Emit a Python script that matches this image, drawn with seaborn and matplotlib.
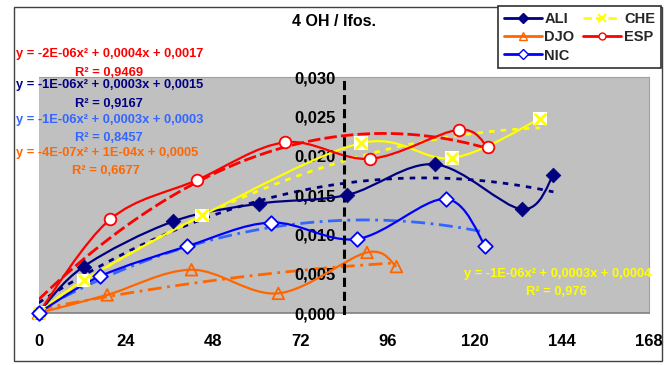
import numpy as np
import pandas as pd
import matplotlib
matplotlib.use("Agg")
import matplotlib.pyplot as plt
import seaborn as sns
from matplotlib.path import Path
from matplotlib.patches import PathPatch, Rectangle
from matplotlib.lines import Line2D
from matplotlib.ticker import FuncFormatter

# ---------------- data ----------------
ali_x = [0, 12.4, 37.1, 60.7, 84.9, 109, 133, 141.7]
ali_y = [0, 0.0059, 0.01165, 0.0139, 0.0150, 0.0189, 0.0132, 0.0175]
che_x = [0, 12.4, 45, 88.8, 113.8, 138]
che_y = [0, 0.00415, 0.0124, 0.0216, 0.0197, 0.0247]
esp_x = [0, 19.7, 43.6, 67.8, 91.2, 115.6, 123.6]
esp_y = [0, 0.0119, 0.0169, 0.0217, 0.0196, 0.0233, 0.0211]
nic_x = [0, 16.9, 41, 64, 87.6, 112, 123]
nic_y = [0, 0.00466, 0.0085, 0.0115, 0.0094, 0.0145, 0.0085]
djo_x = [0, 18.9, 42.1, 66, 90.4, 98.5]
djo_y = [0, 0.0023, 0.0055, 0.0025, 0.0077, 0.0059]

x_ticks = [0, 24, 48, 72, 96, 120, 144, 168]
y_ticks = [0.000, 0.005, 0.010, 0.015, 0.020, 0.025, 0.030]

title = "4 OH / Ifos."
eq_esp = ("y = -2E-06x² + 0,0004x + 0,0017", "R² = 0,9469")
eq_ali = ("y = -1E-06x² + 0,0003x + 0,0015", "R² = 0,9167")
eq_nic = ("y = -1E-06x² + 0,0003x + 0,0003", "R² = 0,8457")
eq_djo = ("y = -4E-07x² + 1E-04x + 0,0005", "R² = 0,6677")
eq_che = ("y = -1E-06x² + 0,0003x + 0,0004", "R² = 0,976")

# ---------------- style ----------------
sns.set_style("white")
FONT = ["Liberation Sans Narrow", "Liberation Sans", "DejaVu Sans"]
plt.rcParams["font.family"] = FONT
plt.rcParams["font.weight"] = "bold"

NAVY = "#000080"
YELLOW = "#FFFF00"
ORANGE = "#FF6600"
RED = "#FF0000"
BLUE = "#0000FF"
LBLUE = "#3366FF"
GRAY = "#C0C0C0"

W, H = 670, 365
fig = plt.figure(figsize=(W / 100, H / 100), dpi=100)
fig.patch.set_facecolor("white")

L, R, T, B = 38.5, 649, 77, 313
ax = fig.add_axes([L / W, 1 - B / H, (R - L) / W, (B - T) / H])
ax.set_facecolor(GRAY)
ax.set_xlim(0, 168)
ax.set_ylim(0, 0.030)


def smooth_path(xs, ys):
    pts = np.column_stack([xs, ys]).astype(float)
    n = len(pts)
    verts = [pts[0]]
    codes = [Path.MOVETO]
    for i in range(n - 1):
        p0 = pts[i - 1] if i > 0 else pts[i]
        p1 = pts[i]
        p2 = pts[i + 1]
        p3 = pts[i + 2] if i + 2 < n else pts[i + 1]
        c1 = p1 + (p2 - p0) / 6.0
        c2 = p2 - (p3 - p1) / 6.0
        verts += [c1, c2, p2]
        codes += [Path.CURVE4] * 3
    return Path(verts, codes)


series = [
    ("ALI", ali_x, ali_y, NAVY, NAVY, (0, (2, 2.2))),
    ("CHE", che_x, che_y, YELLOW, YELLOW, (0, (2, 2.2))),
    ("DJO", djo_x, djo_y, ORANGE, ORANGE, (0, (5, 2, 1, 2))),
    ("ESP", esp_x, esp_y, RED, RED, (0, (4.5, 1.5))),
    ("NIC", nic_x, nic_y, BLUE, LBLUE, (0, (5, 2, 1, 2))),
]

# trend lines (2nd order polynomial) via seaborn
for name, xs, ys, col, tcol, ls in series:
    df = pd.DataFrame({"t": xs, "v": ys})
    sns.regplot(data=df, x="t", y="v", order=2, ci=None, scatter=False,
                truncate=True, ax=ax, color=tcol,
                line_kws=dict(lw=2.0, ls=ls, zorder=2))

# smoothed data lines
for name, xs, ys, col, tcol, ls in series:
    ax.add_patch(PathPatch(smooth_path(xs, ys), fill=False, edgecolor=col,
                           lw=1.6, zorder=3))

# markers
n_before = len(ax.collections)
sns.scatterplot(x=ali_x, y=ali_y, marker="D", s=55, color=NAVY,
                edgecolor=NAVY, ax=ax, zorder=5)
sns.scatterplot(x=che_x, y=che_y, marker="s", s=95, color="white",
                edgecolor="none", ax=ax, zorder=5)
sns.scatterplot(x=che_x, y=che_y, marker="x", s=70, color=YELLOW,
                linewidth=2, ax=ax, zorder=6)
sns.scatterplot(x=djo_x, y=djo_y, marker="^", s=70, facecolor="none",
                edgecolor=ORANGE, linewidth=1.3, ax=ax, zorder=5)
sns.scatterplot(x=esp_x, y=esp_y, marker="o", s=70, color="white",
                edgecolor=RED, linewidth=1.3, ax=ax, zorder=5)
sns.scatterplot(x=nic_x, y=nic_y, marker="D", s=55, color="white",
                edgecolor=BLUE, linewidth=1.3, ax=ax, zorder=6)
for c in ax.collections[n_before:]:
    c.set_clip_on(False)

ax.set_xlabel("")
ax.set_ylabel("")

# axes
ax.spines["left"].set_position(("data", 84))
ax.spines["left"].set_linestyle((0, (2, 2.6)))
ax.spines["left"].set_linewidth(2.2)
ax.spines["left"].set_color("black")
ax.spines["left"].set_zorder(4)
ax.spines["bottom"].set_color("#808080")
ax.spines["bottom"].set_linewidth(1.2)
for s in ("top", "right"):
    ax.spines[s].set_color("#A0A0A0")
    ax.spines[s].set_linewidth(0.8)

ax.set_xticks(x_ticks)
ax.set_yticks(y_ticks)
ax.yaxis.set_major_formatter(FuncFormatter(lambda v, p: f"{v:.3f}".replace(".", ",")))
ax.tick_params(axis="x", direction="out", length=5, width=1, color="#808080",
               labelsize=12, pad=10, labelcolor="black")
ax.tick_params(axis="y", direction="out", length=4, width=2, color="black",
               labelsize=12, pad=2, labelcolor="black")
for lab in ax.get_xticklabels() + ax.get_yticklabels():
    lab.set_fontweight("bold")
ax.set_axisbelow(False)


def ftext(px, py, s, color, size=9.3, ha="left"):
    fig.text(px / W, 1 - py / H, s, color=color, fontsize=size,
             fontweight="bold", ha=ha, va="center")


ftext(334, 22, title, "black", size=11.5, ha="center")
ftext(16, 54, eq_esp[0], RED)
ftext(75, 73, eq_esp[1], RED)
ftext(16, 85, eq_ali[0], NAVY)
ftext(75, 104, eq_ali[1], NAVY)
ftext(16, 120, eq_nic[0], LBLUE)
ftext(75, 138, eq_nic[1], LBLUE)
ftext(16, 153, eq_djo[0], ORANGE)
ftext(72, 171, eq_djo[1], ORANGE)
ftext(464, 274, eq_che[0], YELLOW)
ftext(526, 292, eq_che[1], YELLOW)

# outer chart border
fig.patches.append(Rectangle((14 / W, 1 - 361 / H), (662 - 14) / W, (361 - 7) / H,
                             transform=fig.transFigure, fill=False,
                             ec="#404040", lw=1.0))

# legend
handles = [
    Line2D([], [], color=NAVY, lw=2, marker="D", ms=5, mfc=NAVY, mec=NAVY),
    Line2D([], [], color=ORANGE, lw=2, marker="^", ms=6, mfc="none", mec=ORANGE),
    Line2D([], [], color=BLUE, lw=2, marker="D", ms=5, mfc="white", mec=BLUE),
    Line2D([], [], color=YELLOW, lw=2, ls=(0, (3, 1.5)), marker="x", ms=6, mec=YELLOW, mew=1.5),
    Line2D([], [], color=RED, lw=2, marker="o", ms=5, mfc="white", mec=RED),
]
labels = ["ALI", "DJO", "NIC", "CHE", "ESP"]
leg = fig.legend(handles, labels, loc="upper right",
                 bbox_to_anchor=(661 / W, 1 - 6 / H), ncol=2, frameon=True,
                 fancybox=False, edgecolor="#303030", framealpha=1,
                 borderaxespad=0, handlelength=2.6, handletextpad=0.2,
                 columnspacing=0.6, labelspacing=0.3, borderpad=0.4,
                 prop=dict(family=FONT, weight="bold", size=10.5))
leg.get_frame().set_linewidth(1.2)

fig.savefig("out.png", dpi=100)
